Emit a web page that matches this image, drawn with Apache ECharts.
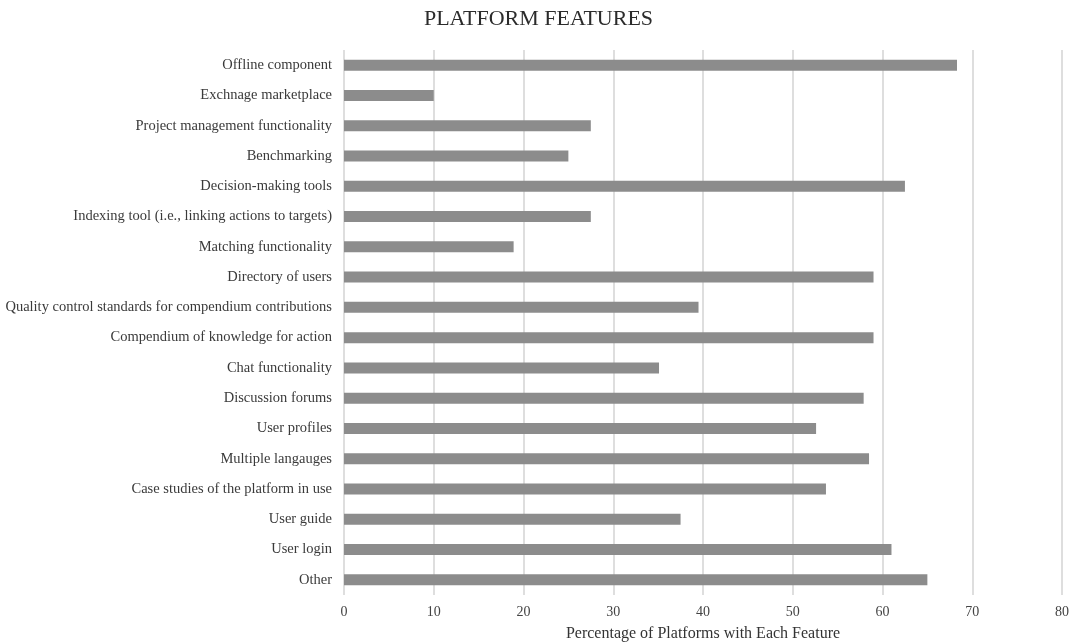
<!DOCTYPE html>
<html>
<head>
<meta charset="utf-8">
<script src="https://cdn.jsdelivr.net/npm/echarts@6/dist/echarts.min.js"></script>
<style>html,body{margin:0;padding:0;background:#fff;}#c{width:1077px;height:642px;}</style>
</head>
<body>
<div id="c"></div>
<script>
const categories = [
  "Offline component",
  "Exchnage marketplace",
  "Project management functionality",
  "Benchmarking",
  "Decision-making tools",
  "Indexing tool (i.e., linking actions to targets)",
  "Matching functionality",
  "Directory of users",
  "Quality control standards for compendium contributions",
  "Compendium of knowledge for action",
  "Chat functionality",
  "Discussion forums",
  "User profiles",
  "Multiple langauges",
  "Case studies of the platform in use",
  "User guide",
  "User login",
  "Other"
];
const values = [68.3, 10.0, 27.5, 25.0, 62.5, 27.5, 18.9, 59.0, 39.5, 59.0, 35.1, 57.9, 52.6, 58.5, 53.7, 37.5, 61.0, 65.0];
const xTicks = {min: 0, max: 80, interval: 10};

const font = "'Liberation Serif', 'DejaVu Serif', serif";
const chart = echarts.init(document.getElementById('c'));
chart.setOption({
  animation: false,
  backgroundColor: '#fff',
  title: {
    text: 'PLATFORM FEATURES',
    left: 'center',
    top: 3,
    textStyle: {fontFamily: font, fontSize: 22, fontWeight: 'normal', color: '#2b2b2b'}
  },
  grid: {left: 344, right: 15, top: 50, bottom: 47, containLabel: false, outerBoundsMode: 'none'},
  xAxis: {
    type: 'value',
    min: xTicks.min, max: xTicks.max, interval: xTicks.interval,
    name: 'Percentage of Platforms with Each Feature',
    nameLocation: 'middle',
    nameGap: 31,
    nameTextStyle: {fontFamily: font, fontSize: 16, color: '#333'},
    axisLine: {show: false},
    axisTick: {show: false},
    axisLabel: {fontFamily: font, fontSize: 14, color: '#444', margin: 10},
    splitLine: {show: true, lineStyle: {color: '#d3d3d3', width: 1.5}}
  },
  yAxis: {
    type: 'category',
    data: categories,
    inverse: true,
    axisLine: {show: false},
    axisTick: {show: false},
    axisLabel: {fontFamily: font, fontSize: 14.5, color: '#3a3a3a', margin: 12}
  },
  series: [{
    type: 'bar',
    data: values,
    barWidth: 11,
    itemStyle: {color: '#8c8c8c'}
  }]
});
</script>
</body>
</html>
